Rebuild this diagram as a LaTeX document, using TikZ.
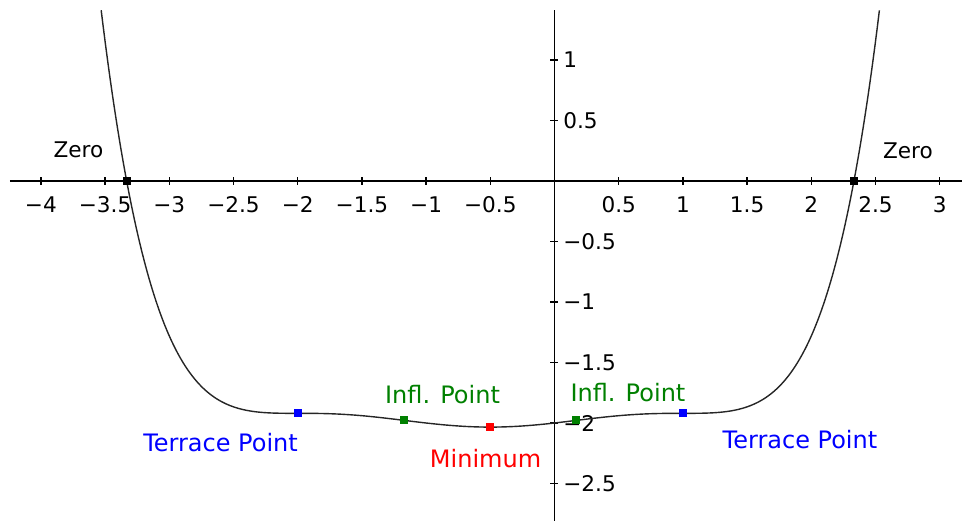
\documentclass[tikz,border=0pt]{standalone}
\usepackage{fontspec}
\setmainfont{DejaVu Sans}
\usepackage{xcolor}
\usepackage{tikz}
\usetikzlibrary{positioning}

\definecolor{ptblue}{RGB}{0,0,255}
\definecolor{ptgreen}{RGB}{0,128,0}
\definecolor{ptred}{RGB}{255,0,0}

\begin{document}
\begin{tikzpicture}[
  x=64.2pt, y=60.5pt,
  declare function={f(\x)=0.01*(\x*\x+\x-2)*(\x*\x+\x-2)*(\x*\x+\x-2)-1.92;},
  axis/.style={line width=0.7pt, draw=black},
  curve/.style={line width=0.7pt, draw=black!85},
  numlab/.style={inner sep=0pt, font=\fontsize{10.8}{12}\selectfont},
  dot/.style={rectangle, inner sep=0pt, minimum size=4pt},
  ptlabel/.style={anchor=base, inner sep=0pt, font=\fontsize{12}{14}\selectfont}
]

  \useasboundingbox (-4.3185,-2.8099) rectangle (3.1737,1.4959);

  % Axes
  \coordinate (xstart) at (-4.2407,0);
  \coordinate (xend) at (3.1737,0);
  \coordinate (ytop) at (0,1.413);
  \coordinate (ybot) at (0,-2.8099);
  \draw[axis] (xstart) -- (xend);
  \draw[axis] (ytop) -- (ybot);

  % Ticks and numbers
  \foreach \t/\l in {-4/−4, -3.5/−3.5, -3/−3, -2.5/−2.5, -2/−2, -1.5/−1.5, -1/−1, -0.5/−0.5,
                     0.5/0.5, 1/1, 1.5/1.5, 2/2, 2.5/2.5, 3/3} {
    \draw[axis] ([yshift=2pt]\t,0) -- ([yshift=-2pt]\t,0);
    \node[numlab, anchor=base] at (\t,-0.264) {\l};
  }
  \foreach \t/\l in {1/1, 0.5/0.5, -0.5/−0.5, -1/−1, -1.5/−1.5, -2/−2, -2.5/−2.5} {
    \draw[axis] ([xshift=-2pt]0,\t) -- ([xshift=2pt]0,\t);
    \node[numlab, anchor=west] at (0.066,\t) {\l};
  }

  % Graph
  \draw[curve] plot[domain=-3.5305:2.5305, samples=200, smooth] (\x,{f(\x)});

  % Marked points
  \node[dot, fill=black] (zeroL) at (-3.332,0) {};
  \node[dot, fill=black] (zeroR) at (2.332,0) {};
  \node[dot, fill=ptblue] (terrL) at (-2,{f(-2)}) {};
  \node[dot, fill=ptgreen] (inflL) at (-1.1708,{f(-1.1708)}) {};
  \node[dot, fill=ptred] (minpt) at (-0.5,{f(-0.5)}) {};
  \node[dot, fill=ptgreen] (inflR) at (0.1708,{f(0.1708)}) {};
  \node[dot, fill=ptblue] (terrR) at (1,{f(1)}) {};

  % Labels
  \node[numlab, anchor=base] (zeroLlab) at (-3.707,0.198) {Zero};
  \node[numlab, anchor=base] (zeroRlab) at (2.753,0.19) {Zero};
  \node[ptlabel, text=ptblue] (terrLlab) at (-2.601,-2.236) {Terrace Point};
  \node[ptlabel, text=ptgreen] (inflLlab) at (-0.872,-1.835) {Infl. Point};
  \node[ptlabel, text=ptred] (minlab) at (-0.537,-2.364) {Minimum};
  \node[ptlabel, text=ptgreen] (inflRlab) at (0.572,-1.826) {Infl. Point};
  \node[ptlabel, text=ptblue] (terrRlab) at (1.912,-2.207) {Terrace Point};

\end{tikzpicture}
\end{document}
